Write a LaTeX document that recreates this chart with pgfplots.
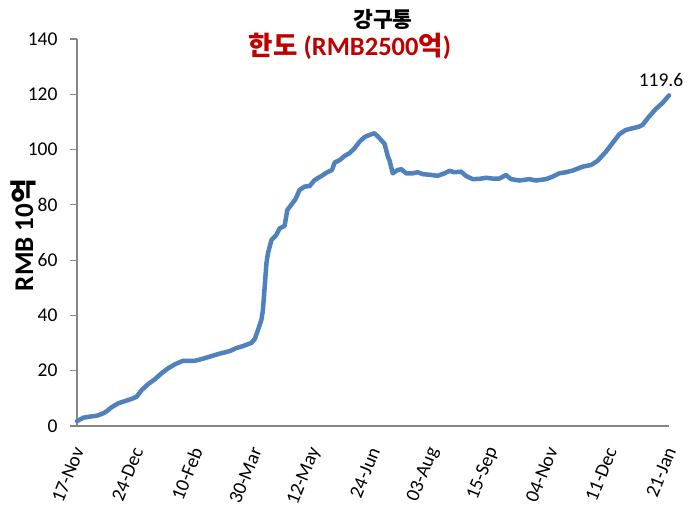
\documentclass[border=0pt]{standalone}
\usepackage{fontspec}
\setmainfont{Carlito}
\newfontfamily\kr{Noto Sans CJK KR}
\usepackage{pgfplots}
\pgfplotsset{compat=1.18}
\definecolor{lineblue}{HTML}{4F81BD}
\definecolor{axgray}{HTML}{868686}
\definecolor{darkred}{HTML}{C00000}
\begin{document}
\begin{tikzpicture}[x=1pt,y=1pt]
\useasboundingbox (0,0) rectangle (698,529);
\begin{axis}[
  at={(77pt,103pt)}, anchor=south west,
  scale only axis, width=592pt, height=387pt,
  xmin=0, xmax=270, ymin=0, ymax=140,
  axis x line*=bottom, axis y line*=left,
  axis line style={axgray, line width=1.2pt, -},
  tick style={axgray, line width=1.2pt},
  tick align=outside,
  ytick={0,20,...,140},
  major tick length=7pt,
  xtick={0,27,...,270},
  xticklabels={17-Nov,24-Dec,10-Feb,30-Mar,12-May,24-Jun,03-Aug,15-Sep,04-Nov,11-Dec,21-Jan},
  x tick style={draw=none},
  minor xtick={0,5,...,270},
  minor x tick style={axgray, line width=1.2pt},
  minor tick length=7pt,
  /pgf/number format/assume math mode=true,
  tick label style={font=\fontsize{19.5}{22}\selectfont, text=black},
  yticklabel style={xshift=-9pt},
  xticklabel style={xshift=3pt, yshift=-12pt, rotate=68, anchor=east},
  clip=false,
]
\addplot[lineblue, line width=4.5pt, line join=round, line cap=round] table {
x y
0 1.8
2.9 3.0
5.9 3.4
9.0 3.7
12.0 4.6
13.5 5.3
15.8 6.8
18.8 8.2
21.9 9.0
24.9 9.8
27.2 10.6
29.5 13.0
32.5 15.2
35.5 16.9
38.6 19.1
41.6 20.9
44.6 22.3
48.4 23.6
53.7 23.6
56.8 24.2
60.6 25.1
64.3 26.0
69.7 27.1
72.7 28.2
75.7 28.9
79.6 30.1
81.1 31.5
83.3 36.5
84.1 38.4
84.8 42.0
85.6 50.4
86.4 58.9
87.1 62.5
88.7 67.3
90.9 69.1
92.4 71.5
94.7 72.4
95.9 78.1
97.7 80.0
99.6 82.0
101.5 85.4
103.8 86.6
106.1 86.8
108.4 89.0
111.4 90.4
113.7 91.6
116.3 92.6
117.5 95.3
119.8 96.2
122.1 97.7
124.3 98.7
126.6 100.5
128.9 102.9
131.1 104.5
133.4 105.3
135.7 105.9
138.0 104.1
140.3 102.0
141.8 97.4
142.5 96.2
144.0 91.4
146.3 92.6
147.9 92.9
150.1 91.4
153.1 91.4
155.4 91.8
157.7 91.1
160.7 90.9
164.5 90.5
167.6 91.4
169.9 92.3
172.1 91.8
175.2 92.0
177.5 90.4
180.5 89.3
183.5 89.4
186.6 89.8
189.6 89.5
192.6 89.5
195.7 90.8
197.9 89.3
201.7 88.8
206.3 89.3
209.3 88.8
213.9 89.3
216.9 90.2
219.9 91.4
223.0 91.8
226.0 92.4
230.6 93.8
234.4 94.4
237.4 95.9
241.2 99.2
244.2 102.3
247.3 105.5
250.3 107.1
253.3 107.7
256.4 108.3
257.9 108.9
260.9 111.9
264.0 114.7
267.0 116.8
270 119.6
};
\end{axis}
\node[font=\fontsize{21.5}{24}\selectfont\kr\bfseries] at (383,510) {강구통};
\node[font=\fontsize{26.5}{30}\selectfont\bfseries, text=darkred] at (350,483) {{\kr\bfseries 한도} (RMB2500{\kr\bfseries 억})};
\node[font=\fontsize{27}{30}\selectfont\bfseries, rotate=90] at (23,294) {RMB 10{\kr\bfseries 억}};
\node[font=\fontsize{19.5}{22}\selectfont] at (661,449) {119.6};
\end{tikzpicture}
\end{document}
